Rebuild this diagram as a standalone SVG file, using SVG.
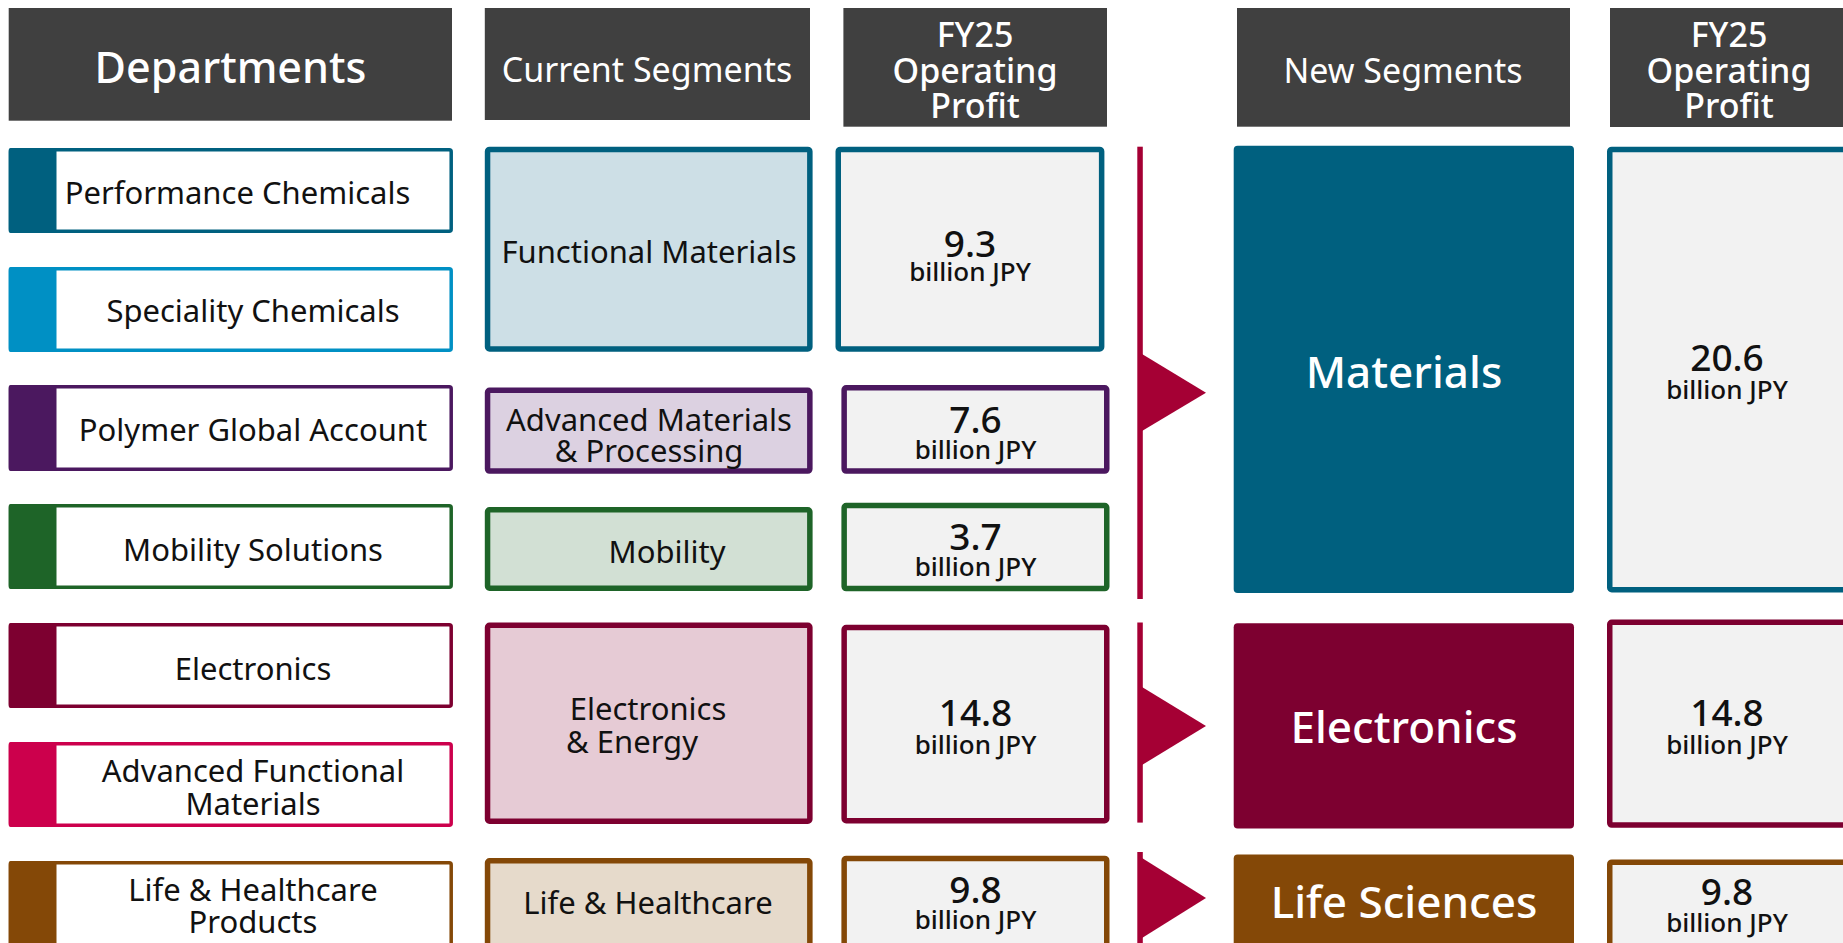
<svg xmlns="http://www.w3.org/2000/svg" width="1843" height="943" viewBox="0 0 1843 943">
<style>
text{font-family:"Noto Sans","Open Sans","DejaVu Sans",sans-serif;text-anchor:middle}
.hdr{fill:#404040}
.ht{fill:#fff;font-size:34px}
.hf{fill:#fff;font-size:34px;font-weight:500}
.hb{fill:#fff;font-size:43px;font-weight:500}
.dl{font-size:31px;fill:#111}
.cs{font-size:31px;fill:#111}
.num{font-size:37px;font-weight:500;fill:#111}
.unit{font-size:26px;font-weight:500;fill:#111}
.ns{fill:#fff;font-size:44px;font-weight:500}
.dept{fill:#fff;stroke-width:3.5}
.seg{stroke-width:5.5}
.pf{fill:#f2f2f2;stroke-width:5.5}
.red{fill:#a50034}
</style>

<g id="headers">
  <g id="h-departments"><rect class="hdr" x="8.7" y="8" width="443.3" height="112.7"/><text class="hb" x="230.5" y="83">Departments</text></g>
  <g id="h-current"><rect class="hdr" x="484.8" y="8" width="325.2" height="112"/><text class="ht" x="647" y="82">Current Segments</text></g>
  <g id="h-fy25-left"><rect class="hdr" x="843.4" y="8" width="263.6" height="118.7"/><text class="hf" x="975" y="46.7">FY25</text><text class="hf" x="975" y="83">Operating</text><text class="hf" x="975" y="118">Profit</text></g>
  <g id="h-new"><rect class="hdr" x="1237" y="8" width="333" height="118.7"/><text class="ht" x="1403" y="83">New Segments</text></g>
  <g id="h-fy25-right"><rect class="hdr" x="1610" y="8" width="240" height="119"/><text class="hf" x="1729" y="46.7">FY25</text><text class="hf" x="1729" y="83">Operating</text><text class="hf" x="1729" y="118">Profit</text></g>
</g>

<g id="departments">
  <g id="d-performance"><rect class="dept" stroke="#00607f" x="10.5" y="149.75" width="440.7" height="81.5" rx="2"/><rect fill="#00607f" x="8.7" y="148" width="47.8" height="85" rx="2"/><text class="dl" x="237.5" y="204">Performance Chemicals</text></g>
  <g id="d-speciality"><rect class="dept" stroke="#0090c4" x="10.5" y="268.75" width="440.7" height="81.5" rx="2"/><rect fill="#0090c4" x="8.7" y="267" width="47.8" height="85" rx="2"/><text class="dl" x="253" y="322">Speciality Chemicals</text></g>
  <g id="d-polymer"><rect class="dept" stroke="#4b185f" x="10.5" y="386.75" width="440.7" height="82.5" rx="2"/><rect fill="#4b185f" x="8.7" y="385" width="47.8" height="86" rx="2"/><text class="dl" x="253" y="441">Polymer Global Account</text></g>
  <g id="d-mobility"><rect class="dept" stroke="#1e6428" x="10.5" y="505.75" width="440.7" height="81.5" rx="2"/><rect fill="#1e6428" x="8.7" y="504" width="47.8" height="85" rx="2"/><text class="dl" x="253" y="561">Mobility Solutions</text></g>
  <g id="d-electronics"><rect class="dept" stroke="#7d0030" x="10.5" y="624.75" width="440.7" height="81.5" rx="2"/><rect fill="#7d0030" x="8.7" y="623" width="47.8" height="85" rx="2"/><text class="dl" x="253" y="680">Electronics</text></g>
  <g id="d-afm"><rect class="dept" stroke="#cc004c" x="10.5" y="743.75" width="440.7" height="81.5" rx="2"/><rect fill="#cc004c" x="8.7" y="742" width="47.8" height="85" rx="2"/><text class="dl" x="253" y="782">Advanced Functional</text><text class="dl" x="253" y="814.5">Materials</text></g>
  <g id="d-lhp"><rect class="dept" stroke="#844807" x="10.5" y="862.75" width="440.7" height="90" rx="2"/><rect fill="#844807" x="8.7" y="861" width="47.8" height="95" rx="2"/><text class="dl" x="253" y="901">Life &amp; Healthcare</text><text class="dl" x="253" y="932.7">Products</text></g>
</g>

<g id="current-segments">
  <g id="c-functional"><rect class="seg" fill="#cddfe6" stroke="#00607f" x="487.55" y="149.45" width="322.3" height="199.5" rx="2"/><text class="cs" x="649" y="263">Functional Materials</text></g>
  <g id="c-amp"><rect class="seg" fill="#dcd1e1" stroke="#4b185f" x="487.55" y="390.25" width="322.3" height="80.8" rx="2"/><text class="cs" x="649" y="430.6">Advanced Materials</text><text class="cs" x="649" y="461.5">&amp; Processing</text></g>
  <g id="c-mobility"><rect class="seg" fill="#d2e0d4" stroke="#1e6428" x="487.55" y="509.75" width="322.3" height="78.5" rx="2"/><text class="cs" x="667" y="562.7">Mobility</text></g>
  <g id="c-ee"><rect class="seg" fill="#e6cbd5" stroke="#7d0030" x="487.55" y="625.25" width="322.3" height="196" rx="2"/><text class="cs" x="648" y="720">Electronics</text><text class="cs" x="632" y="753">&amp; Energy</text></g>
  <g id="c-lh"><rect class="seg" fill="#e6dacb" stroke="#844807" x="487.55" y="860.75" width="322.3" height="95" rx="2"/><text class="cs" x="648" y="914">Life &amp; Healthcare</text></g>
</g>

<g id="current-profit">
  <g id="p-93"><rect class="pf" stroke="#00607f" x="838.25" y="149.45" width="263.4" height="199.5" rx="2"/><text class="num" x="970" y="256.7">9.3</text><text class="unit" x="970" y="281">billion JPY</text></g>
  <g id="p-76"><rect class="pf" stroke="#4b185f" x="844.15" y="387.75" width="262.6" height="83.3" rx="2"/><text class="num" x="975.5" y="432.5">7.6</text><text class="unit" x="975.5" y="458.5">billion JPY</text></g>
  <g id="p-37"><rect class="pf" stroke="#1e6428" x="844.15" y="505.55" width="262.6" height="83" rx="2"/><text class="num" x="975.5" y="549.7">3.7</text><text class="unit" x="975.5" y="576">billion JPY</text></g>
  <g id="p-148"><rect class="pf" stroke="#7d0030" x="844.15" y="627.55" width="262.6" height="193.1" rx="2"/><text class="num" x="975.5" y="726">14.8</text><text class="unit" x="975.5" y="753.5">billion JPY</text></g>
  <g id="p-98"><rect class="pf" stroke="#844807" x="844.15" y="858.45" width="262.6" height="95" rx="2"/><text class="num" x="975.5" y="903">9.8</text><text class="unit" x="975.5" y="929">billion JPY</text></g>
</g>

<g id="connectors">
  <rect class="red" x="1137.3" y="146.7" width="5.5" height="452.3"/>
  <polygon class="red" points="1142,354 1206,392.7 1142,431"/>
  <rect class="red" x="1137.3" y="622.5" width="5.5" height="200.1"/>
  <polygon class="red" points="1142,687 1206,726 1142,765"/>
  <rect class="red" x="1137.3" y="852" width="5.5" height="95"/>
  <polygon class="red" points="1142,858 1206,898 1142,938"/>
</g>

<g id="new-segments">
  <g id="n-materials"><rect fill="#00607f" x="1233.7" y="145.7" width="340.3" height="447.3" rx="4"/><text class="ns" x="1404" y="388">Materials</text></g>
  <g id="n-electronics"><rect fill="#7d0030" x="1233.7" y="623.3" width="340.3" height="205.3" rx="4"/><text class="ns" x="1404" y="743">Electronics</text></g>
  <g id="n-life"><rect fill="#844807" x="1233.7" y="854.6" width="340.3" height="100" rx="4"/><text class="ns" x="1404" y="918">Life Sciences</text></g>
</g>

<g id="new-profit">
  <g id="r-206"><rect class="pf" stroke="#00607f" x="1609.75" y="149.45" width="245" height="440.2" rx="2"/><text class="num" x="1727" y="371">20.6</text><text class="unit" x="1727" y="399">billion JPY</text></g>
  <g id="r-148"><rect class="pf" stroke="#7d0030" x="1609.75" y="622.35" width="245" height="202.7" rx="2"/><text class="num" x="1727" y="726">14.8</text><text class="unit" x="1727" y="753.5">billion JPY</text></g>
  <g id="r-98"><rect class="pf" stroke="#844807" x="1609.75" y="862.15" width="245" height="95" rx="2"/><text class="num" x="1727" y="905">9.8</text><text class="unit" x="1727" y="932">billion JPY</text></g>
</g>
</svg>
